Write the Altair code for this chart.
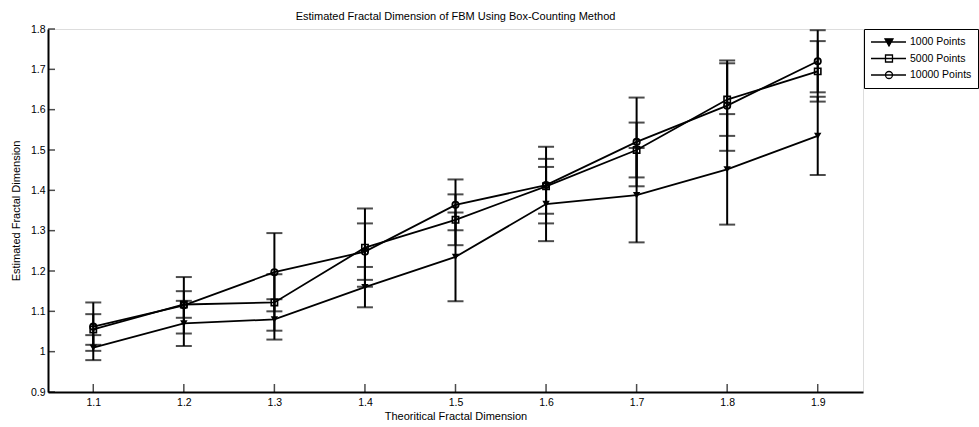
import altair as alt
import pandas as pd

x_vals = [1.1, 1.2, 1.3, 1.4, 1.5, 1.6, 1.7, 1.8, 1.9]
series_names = ["1000 Points", "5000 Points", "10000 Points"]

y_1000 = [1.010, 1.070, 1.080, 1.160, 1.235, 1.366, 1.388, 1.452, 1.535]
err_1000 = [0.031, 0.056, 0.050, 0.050, 0.110, 0.092, 0.117, 0.137, 0.097]
y_5000 = [1.055, 1.117, 1.122, 1.258, 1.327, 1.410, 1.500, 1.625, 1.695]
err_5000 = [0.038, 0.033, 0.070, 0.097, 0.063, 0.068, 0.068, 0.090, 0.075]
y_10000 = [1.062, 1.115, 1.197, 1.248, 1.364, 1.413, 1.520, 1.610, 1.720]
err_10000 = [0.060, 0.070, 0.097, 0.070, 0.063, 0.095, 0.110, 0.112, 0.077]

x_ticks = [1.1, 1.2, 1.3, 1.4, 1.5, 1.6, 1.7, 1.8, 1.9]
y_ticks = [0.9, 1.0, 1.1, 1.2, 1.3, 1.4, 1.5, 1.6, 1.7, 1.8]
x_domain = [1.05, 1.95]
y_domain = [0.9, 1.8]

rows = []
for name, ys, es in zip(series_names, [y_1000, y_5000, y_10000], [err_1000, err_5000, err_10000]):
    for xv, yv, ev in zip(x_vals, ys, es):
        rows.append({"series": name, "x": xv, "y": yv, "lo": yv - ev, "hi": yv + ev})
df = pd.DataFrame(rows)

FONT = "Liberation Sans"

xscale = alt.Scale(domain=x_domain, nice=False, zero=False)
yscale = alt.Scale(domain=y_domain, nice=False, zero=False)

xaxis = alt.Axis(values=x_ticks, format="~g", title="Theoritical Fractal Dimension",
                 ticks=False, domainWidth=2, domainColor="black",
                 labelPadding=5, titlePadding=3, labelFontSize=10.5, titleFontSize=11,
                 labelFont=FONT, titleFont=FONT, labelColor="black", titleColor="black",
                 titleFontWeight="normal", grid=False)
yaxis = alt.Axis(values=y_ticks, format="~g", title="Estimated Fractal Dimension",
                 ticks=False, domainWidth=2, domainColor="black",
                 labelPadding=3, titlePadding=9, labelFontSize=10.5, titleFontSize=11,
                 labelFont=FONT, titleFont=FONT, labelColor="black", titleColor="black",
                 titleFontWeight="normal", grid=False)

X = alt.X("x:Q", scale=xscale, axis=xaxis)
Y = alt.Y("y:Q", scale=yscale, axis=yaxis)
Ylo = alt.Y("lo:Q", scale=yscale, axis=yaxis)
Yhi = alt.Y("hi:Q", scale=yscale, axis=yaxis)

base = alt.Chart(df)

lines = base.mark_line(color="black", strokeWidth=1.8).encode(x=X, y=Y, detail="series:N", order="x:Q")
bars = base.mark_rule(color="black", strokeWidth=2).encode(x=X, y=Ylo, y2="hi:Q")
cap_lo = base.mark_tick(orient="horizontal", size=16, thickness=2, color="black").encode(x=X, y=Ylo)
cap_hi = base.mark_tick(orient="horizontal", size=16, thickness=2, color="black").encode(x=X, y=Yhi)

tri = base.transform_filter(alt.datum.series == "1000 Points").mark_point(
    shape="triangle-down", filled=True, color="black", size=55, opacity=1).encode(x=X, y=Y)
sq = base.transform_filter(alt.datum.series == "5000 Points").mark_point(
    shape="square", filled=False, color="black", strokeWidth=1.6, size=40, opacity=1).encode(x=X, y=Y)
circ = base.transform_filter(alt.datum.series == "10000 Points").mark_point(
    shape="circle", filled=False, color="black", strokeWidth=1.8, size=40, opacity=1).encode(x=X, y=Y)

# inward-pointing axis ticks (MATLAB style), placed from the tick lists via the scales
xt = alt.Chart(pd.DataFrame({"x": x_ticks, "y0": [y_domain[0]] * len(x_ticks)})).mark_tick(
    orient="vertical", size=8, thickness=1.5, color="black", yOffset=-4).encode(
    x=X, y=alt.Y("y0:Q", scale=yscale, axis=yaxis))
yt = alt.Chart(pd.DataFrame({"y": y_ticks, "x0": [x_domain[0]] * len(y_ticks)})).mark_tick(
    orient="horizontal", size=7, thickness=1.5, color="black", xOffset=3.5).encode(
    x=alt.X("x0:Q", scale=xscale, axis=xaxis), y=Y)

line_path = "M-0.945,0L4.57,0"
legend_paths = [
    line_path + "M1.26,-0.5L2.52,-0.5L1.89,0.63Z",
    line_path + "M1.34,-0.55L2.44,-0.55L2.44,0.55L1.34,0.55Z",
    line_path + "M1.34,0A0.55,0.55 0 1,0 2.44,0A0.55,0.55 0 1,0 1.34,0Z",
]
legend_fills = ["black", "white", "white"]
legend_strokes = ["black", "black", "black"]

leg = alt.Legend(title=None, orient="none", legendX=816, legendY=0,
                 padding=6, strokeColor="black", fillColor="white", cornerRadius=0,
                 labelFont=FONT, labelFontSize=10.5, labelColor="black", labelOffset=26,
                 symbolSize=161, symbolStrokeWidth=1.3,
                 symbolOpacity=1, rowPadding=2.5)

# legend-only layer: no marks drawn in the plot (empty after filter), legend comes from the explicit scale domain
legend_layer = base.transform_filter(alt.datum.x > 100).mark_point(
    filled=False, strokeWidth=1.3, opacity=0).encode(
    x=X, y=Y,
    shape=alt.Shape("series:N", scale=alt.Scale(domain=series_names, range=legend_paths), legend=leg),
    fill=alt.Fill("series:N", scale=alt.Scale(domain=series_names, range=legend_fills), legend=leg),
    stroke=alt.Stroke("series:N", scale=alt.Scale(domain=series_names, range=legend_strokes), legend=leg),
)

chart = alt.layer(lines, bars, cap_lo, cap_hi, tri, sq, circ, xt, yt, legend_layer).properties(
    width=815, height=363,
    title=alt.TitleParams("Estimated Fractal Dimension of FBM Using Box-Counting Method",
                          font=FONT, fontSize=11, fontWeight="normal", color="black",
                          anchor="middle", offset=2),
    autosize=alt.AutoSizeParams(type="none"),
    padding={"left": 48, "top": 29, "right": 116, "bottom": 35},
).configure_view(stroke="transparent", strokeOpacity=0).configure(background="white")

chart.save("out.html", embed_options={"renderer": "svg", "actions": False})
